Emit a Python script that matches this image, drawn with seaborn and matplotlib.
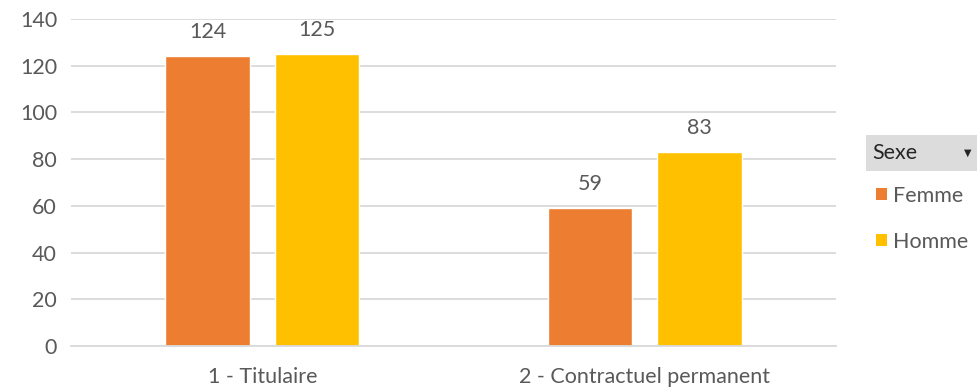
import matplotlib
matplotlib.use("Agg")
import matplotlib.pyplot as plt
from matplotlib.patches import Rectangle, Patch
import seaborn as sns
import pandas as pd

categories = ["1 - Titulaire", "2 - Contractuel permanent"]
sexes = ["Femme", "Homme"]
femme = [124, 59]
homme = [125, 83]
yticks = [0, 20, 40, 60, 80, 100, 120, 140]
colors = {"Femme": "#ED7D31", "Homme": "#FFC000"}

df = pd.DataFrame({
    "Statut": categories * 2,
    "Sexe": ["Femme"] * len(categories) + ["Homme"] * len(categories),
    "Effectif": femme + homme,
})

sns.set_theme(style="white")
plt.rcParams["font.family"] = ["Lato", "DejaVu Sans"]
text_color = "#595959"
grid_color = "#D9D9D9"
fs = 15.5

fig = plt.figure(figsize=(9.77, 3.9), dpi=100)
ax = fig.add_axes([71 / 977, 1 - 346 / 390, (836 - 71) / 977, (346 - 19) / 390])

sns.barplot(data=df, x="Statut", y="Effectif", hue="Sexe", hue_order=sexes,
            palette=colors, width=0.572, gap=0.23, saturation=1,
            legend=False, ax=ax)

for container in ax.containers:
    ax.bar_label(container, padding=10, fontsize=fs, color=text_color)

ax.set_ylim(0, 140)
ax.set_yticks(yticks)
ax.set_xlim(-0.5, 1.5)
ax.yaxis.grid(True, color=grid_color, linewidth=1.3)
ax.set_axisbelow(True)
for side in ["top", "right", "left"]:
    ax.spines[side].set_visible(False)
ax.spines["bottom"].set_color(grid_color)
ax.spines["bottom"].set_linewidth(1.3)
ax.tick_params(axis="y", length=0, labelsize=fs, colors=text_color, pad=10)
ax.tick_params(axis="x", length=0, labelsize=fs, colors=text_color, pad=15)
ax.set_xlabel("")
ax.set_ylabel("")

# Field header of the legend
fig.patches.append(Rectangle((866 / 977, 1 - 171 / 390), 111 / 977, 36 / 390,
                             transform=fig.transFigure, facecolor="#DCDCDC",
                             edgecolor="none", zorder=0))
fig.text(872 / 977, 1 - 153 / 390, "Sexe", fontsize=fs, color="#262626",
         va="center", ha="left")
fig.text(968 / 977, 1 - 153 / 390, "▼", fontsize=7, color="#262626",
         va="center", ha="center", family="DejaVu Sans")

handles = [Patch(facecolor=colors[s], edgecolor="none") for s in sexes]
fig.legend(handles, sexes, loc="upper left",
           bbox_to_anchor=(876 / 977, 1 - 186 / 390), frameon=False,
           fontsize=fs, labelcolor=text_color, handlelength=0.5,
           handleheight=0.5, handletextpad=0.3, labelspacing=1.2,
           borderaxespad=0, borderpad=0)

fig.savefig("out.png", dpi=100)
